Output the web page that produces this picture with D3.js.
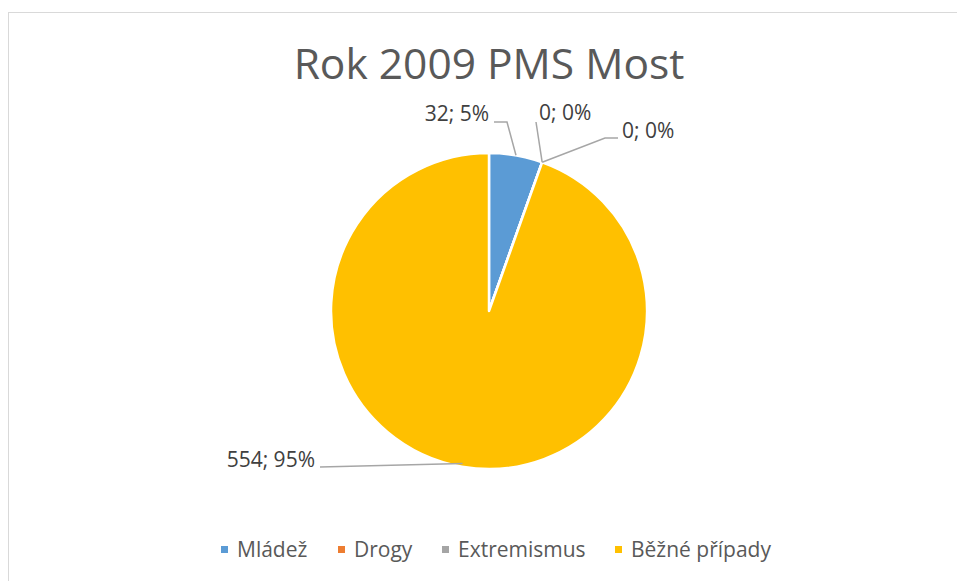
<!DOCTYPE html>
<html><head><meta charset="utf-8">
<script src="https://d3js.org/d3.v7.min.js"></script>
<style>body{margin:0;background:#fff}svg{display:block}</style>
</head><body>
<script>
const title = "Rok 2009 PMS Most";
const categories = ["Mládež", "Drogy", "Extremismus", "Běžné případy"];
const values = [32, 0, 0, 554];
const percents = ["5%", "0%", "0%", "95%"];
const colors = ["#5B9BD5", "#ED7D31", "#A5A5A5", "#FFC000"];

const W = 957, H = 581;
const svg = d3.select("body").append("svg").attr("width", W).attr("height", H);
const font = "'Open Sans', 'Noto Sans', sans-serif";

// chart frame
svg.append("rect").attr("x", 8.5).attr("y", 12.5).attr("width", W + 20).attr("height", H + 20)
  .attr("fill", "none").attr("stroke", "#d9d9d9").attr("stroke-width", 1);

svg.append("text").attr("x", 489).attr("y", 79).attr("text-anchor", "middle")
  .attr("font-family", font).attr("font-size", 42.5).attr("fill", "#595959").text(title);

const cx = 489, cy = 311, r = 158;
const pie = d3.pie().sort(null).value(d => d)(values);
const arc = d3.arc().innerRadius(0).outerRadius(r);
const g = svg.append("g").attr("transform", `translate(${cx},${cy})`);
g.selectAll("path").data(pie).join("path")
  .attr("d", arc).attr("fill", (d, i) => colors[i])
  .attr("stroke", "#fff").attr("stroke-width", 2.5).attr("stroke-linejoin", "round");

// data labels with leader lines
const labelPos = [
  {tx: 489, ty: 121, anchor: "end", pts: [[494,122],[507,122]]},
  {tx: 539, ty: 120, anchor: "start", pts: [[536,122]]},
  {tx: 622, ty: 138, anchor: "start", pts: [[618,138],[605,138]]},
  {tx: 315, ty: 467, anchor: "end", pts: [[320,467]]}
];
pie.forEach((d, i) => {
  const lp = labelPos[i];
  const mid = (d.startAngle + d.endAngle) / 2;
  const rr = i === 3 ? r * 0.98 : r;
  const end = [cx + Math.sin(mid) * rr, cy - Math.cos(mid) * rr];
  const pts = lp.pts.concat([end]);
  svg.append("path").attr("d", d3.line()(pts)).attr("fill", "none")
    .attr("stroke", "#a6a6a6").attr("stroke-width", 1.5);
  svg.append("text").attr("x", lp.tx).attr("y", lp.ty).attr("text-anchor", lp.anchor)
    .attr("font-family", font).attr("font-size", 21).attr("fill", "#404040")
    .text(`${values[i]}; ${percents[i]}`);
});

// legend
const legX = [221, 338, 442, 615];
const leg = svg.append("g");
categories.forEach((c, i) => {
  leg.append("rect").attr("x", legX[i]).attr("y", 546).attr("width", 7).attr("height", 7).attr("fill", colors[i]);
  leg.append("text").attr("x", legX[i] + 16).attr("y", 557).attr("font-family", font)
    .attr("font-size", 21).attr("fill", "#595959").text(c);
});
</script>
</body></html>
